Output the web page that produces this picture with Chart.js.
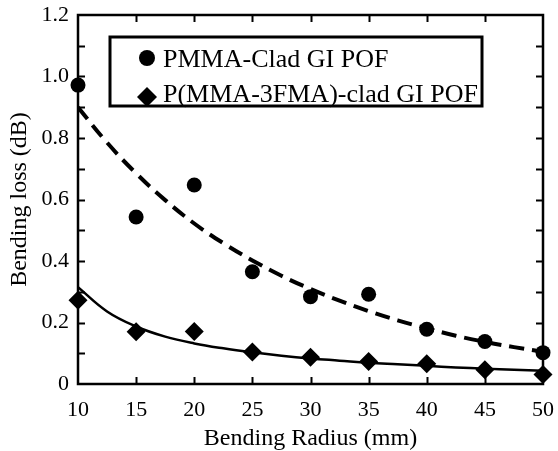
<!DOCTYPE html>
<html>
<head>
<meta charset="utf-8">
<script src="https://cdn.jsdelivr.net/npm/chart.js@4/dist/chart.umd.min.js"></script>
<style>
  html, body { margin: 0; padding: 0; background: #fff; }
  #wrap { width: 558px; height: 451px; }
</style>
</head>
<body>
<div id="wrap"><canvas id="c" width="558" height="451"></canvas></div>
<script>
// ---- data ----
const radius = [10, 15, 20, 25, 30, 35, 40, 45, 50];
const pmmaLoss = [0.972, 0.543, 0.647, 0.365, 0.284, 0.292, 0.178, 0.138, 0.102];
const p3fmaLoss = [0.272, 0.170, 0.171, 0.104, 0.087, 0.073, 0.066, 0.046, 0.031];

const fitRadius = [10, 12.5, 15, 17.5, 20, 22.5, 25, 27.5, 30, 32.5, 35, 37.5, 40, 42.5, 45, 47.5, 50];
const pmmaFit = [0.90, 0.785, 0.685, 0.598, 0.522, 0.458, 0.402, 0.352, 0.309, 0.271, 0.237, 0.207, 0.181, 0.157, 0.137, 0.120, 0.105];
const p3fmaFit = [0.315, 0.236, 0.187, 0.154, 0.132, 0.116, 0.103, 0.092, 0.083, 0.076, 0.069, 0.064, 0.059, 0.054, 0.050, 0.046, 0.043];

const seriesLabels = ['PMMA-Clad GI POF', 'P(MMA-3FMA)-clad GI POF'];
const xTitle = 'Bending Radius (mm)';
const yTitle = 'Bending loss (dB)';

const FONT = '"Liberation Serif", "Times New Roman", serif';

function pts(xs, ys) { return xs.map((x, i) => ({ x: x, y: ys[i] })); }

// frame + inward ticks
const framePlugin = {
  id: 'frame',
  afterDatasetsDraw(chart) {
    const { ctx, chartArea: a, scales } = chart;
    const xs = scales.x, ys = scales.y;
    ctx.save();
    ctx.strokeStyle = '#000';
    ctx.lineWidth = 2;
    const tl = 7;
    ctx.beginPath();
    xs.ticks.forEach(t => {
      const px = Math.round(xs.getPixelForValue(t.value)) + 0.5;
      if (t.value === xs.min || t.value === xs.max) return;
      ctx.moveTo(px, a.bottom); ctx.lineTo(px, a.bottom - tl);
      ctx.moveTo(px, a.top); ctx.lineTo(px, a.top + tl);
    });
    for (let v = 1; v < 12; v++) {
      const py = Math.round(ys.getPixelForValue(v / 10)) + 0.5;
      ctx.moveTo(a.left, py); ctx.lineTo(a.left + tl, py);
      ctx.moveTo(a.right, py); ctx.lineTo(a.right - tl, py);
    }
    ctx.stroke();
    ctx.lineWidth = 2.5;
    ctx.strokeRect(a.left, a.top, a.right - a.left, a.bottom - a.top);
    ctx.restore();
  }
};

// boxed legend
const legendPlugin = {
  id: 'boxLegend',
  afterDraw(chart) {
    const { ctx } = chart;
    ctx.save();
    ctx.lineWidth = 3;
    ctx.strokeStyle = '#000';
    ctx.fillStyle = '#fff';
    ctx.fillRect(110, 37, 372, 69);
    ctx.strokeRect(110, 37, 372, 69);
    const rows = [
      { ds: chart.data.datasets[0], y: 58, base: 67, r: 8 },
      { ds: chart.data.datasets[1], y: 97, base: 102, r: 10 }
    ];
    ctx.font = '26px ' + FONT;
    ctx.textBaseline = 'alphabetic';
    ctx.textAlign = 'left';
    rows.forEach(row => {
      ctx.fillStyle = '#000';
      ctx.strokeStyle = '#000';
      Chart.helpers.drawPoint(ctx, {
        pointStyle: row.ds.pointStyle, radius: row.r, borderWidth: 0
      }, 147, row.y);
      ctx.fillStyle = '#000';
      ctx.fillText(row.ds.label, 163, row.base);
    });
    ctx.restore();
  }
};

Chart.defaults.font.family = FONT;
Chart.defaults.color = '#000';

new Chart(document.getElementById('c'), {
  type: 'scatter',
  data: {
    datasets: [
      {
        label: seriesLabels[0],
        data: pts(radius, pmmaLoss),
        pointStyle: 'circle',
        pointRadius: 7.5,
        backgroundColor: '#000',
        borderColor: '#000',
        borderWidth: 0,
        showLine: false,
        order: 0,
        clip: false
      },
      {
        label: seriesLabels[1],
        data: pts(radius, p3fmaLoss),
        pointStyle: 'rectRot',
        pointRadius: 9.5,
        backgroundColor: '#000',
        borderColor: '#000',
        borderWidth: 0,
        showLine: false,
        order: 0,
        clip: false
      },
      {
        label: 'fit1',
        data: pts(fitRadius, pmmaFit),
        showLine: true,
        pointRadius: 0,
        borderColor: '#000',
        borderWidth: 4,
        borderDash: [15, 8],
        tension: 0.4,
        order: 1
      },
      {
        label: 'fit2',
        data: pts(fitRadius, p3fmaFit),
        showLine: true,
        pointRadius: 0,
        borderColor: '#000',
        borderWidth: 2.5,
        tension: 0.4,
        order: 1
      }
    ]
  },
  options: {
    responsive: false,
    animation: false,
    layout: { padding: { left: 0, right: 15, top: 15, bottom: 0 } },
    plugins: { legend: { display: false }, tooltip: { enabled: false } },
    scales: {
      x: {
        type: 'linear',
        min: 10, max: 50,
        grid: { display: false, drawTicks: false },
        border: { display: false },
        ticks: { stepSize: 5, padding: 13, font: { size: 22 }, color: '#000', maxRotation: 0 },
        title: { display: true, text: xTitle, font: { size: 24, lineHeight: 1 }, color: '#000', padding: { top: 0, bottom: 0 } },
        afterFit(s) { s.height = 67; s.paddingLeft = 0; s.paddingRight = 0; }
      },
      y: {
        min: 0, max: 1.2,
        grid: { display: false, drawTicks: false },
        border: { display: false },
        ticks: {
          stepSize: 0.2, padding: 9, font: { size: 22 }, color: '#000',
          callback: v => (Math.abs(v) < 1e-9 ? '0' : Number(v).toFixed(1))
        },
        title: { display: true, text: yTitle, font: { size: 24, lineHeight: 1 }, color: '#000', padding: { top: 8, bottom: 0 } },
        afterFit(s) { s.width = 78; s.paddingTop = 0; s.paddingBottom = 0; }
      }
    }
  },
  plugins: [framePlugin, legendPlugin]
});
</script>
</body>
</html>
